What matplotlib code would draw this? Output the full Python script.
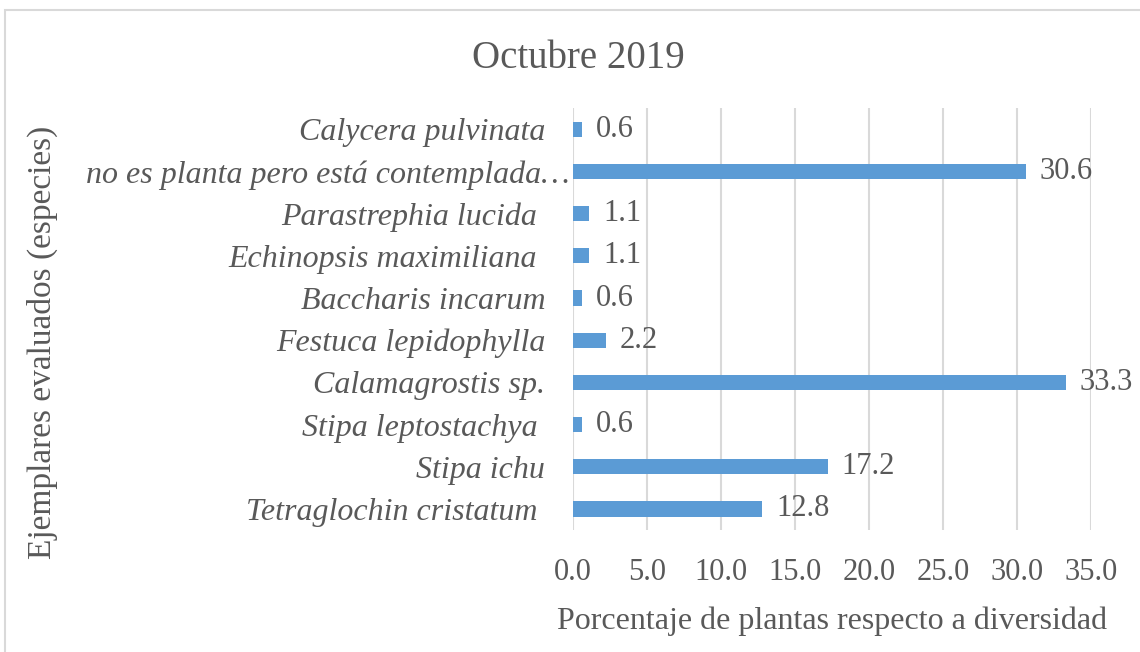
import matplotlib.pyplot as plt
from matplotlib.patches import Rectangle
import matplotlib.transforms as mtransforms

# datos (de arriba hacia abajo en el grafico)
especies = [
    "Calycera pulvinata",
    "no es planta pero está contemplada…",
    "Parastrephia lucida ",
    "Echinopsis maximiliana ",
    "Baccharis incarum",
    "Festuca lepidophylla",
    "Calamagrostis sp.",
    "Stipa leptostachya ",
    "Stipa ichu",
    "Tetraglochin cristatum ",
]
porcentaje = [0.6, 30.6, 1.1, 1.1, 0.6, 2.2, 33.3, 0.6, 17.2, 12.8]
ticks_x = [0, 5, 10, 15, 20, 25, 30, 35]

gris = "#595959"
azul = "#5B9BD5"
linea = "#D9D9D9"

plt.rcParams['font.family'] = ['Liberation Serif', 'DejaVu Serif']

fig = plt.figure(figsize=(11.4, 6.52), dpi=100)
ax = fig.add_axes([0.5026, 0.187, 0.4544, 0.647])

pos = list(range(len(especies)))[::-1]
ax.barh(pos, porcentaje, height=0.36, color=azul, zorder=3)

for p, v in zip(pos, porcentaje):
    ax.annotate(f"{v:.1f}", xy=(v, p), xytext=(10, 0), textcoords="offset points",
                va="center", ha="left", fontsize=22, color=gris)

ax.set_xlim(0, 35)
ax.set_ylim(-0.5, len(especies) - 0.5)
ax.set_xticks(ticks_x)
ax.set_xticklabels([f"{t:.1f}" for t in ticks_x], fontsize=22, color=gris)
ax.set_yticks(pos)
ax.set_yticklabels(especies, fontsize=23, color=gris, style="italic")
ax.tick_params(axis="both", length=0)
ax.tick_params(axis="y", pad=20)
ax.tick_params(axis="x", pad=20)

# la etiqueta larga sobresale un poco hacia la derecha
etiqueta_larga = ax.get_yticklabels()[1]
etiqueta_larga.set_transform(etiqueta_larga.get_transform() +
                             mtransforms.ScaledTranslation(24 / 100, 0, fig.dpi_scale_trans))

ax.grid(axis="x", color=linea, linewidth=1.5, zorder=0)
for s in ax.spines.values():
    s.set_visible(False)

ax.set_xlabel("Porcentaje de plantas respecto a diversidad", fontsize=23, color=gris, labelpad=14)
fig.text(0.037, 0.475, "Ejemplares evaluados (especies)", rotation=90, fontsize=24,
         color=gris, ha="center", va="center")
fig.text(0.507, 0.91, "Octubre 2019", fontsize=28, color=gris, ha="center", va="center")

# borde del area del grafico
fig.patches.append(Rectangle((5 / 1140, -0.05), 1.2, 1 - 10 / 652 + 0.05,
                             transform=fig.transFigure, fill=False,
                             edgecolor=linea, linewidth=1.5))

fig.savefig("out.png", dpi=100)
